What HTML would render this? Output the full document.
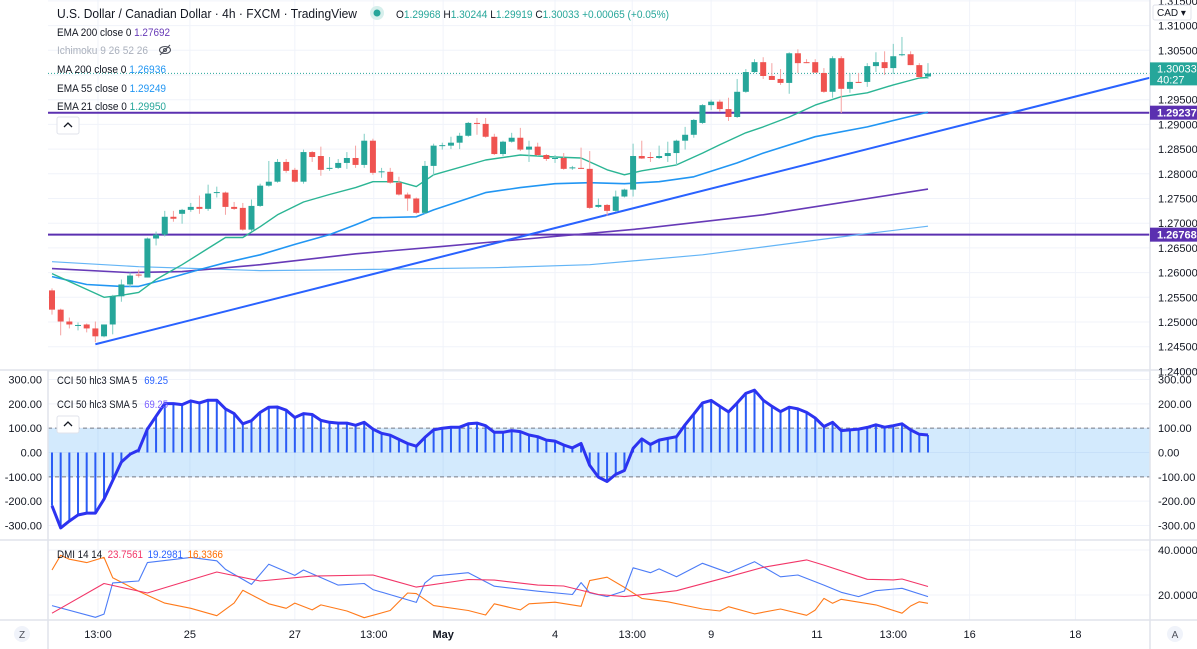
<!DOCTYPE html>
<html><head><meta charset="utf-8">
<style>
html,body{margin:0;padding:0;background:#fff;}
svg{display:block;font-family:"Liberation Sans",sans-serif;}
</style></head>
<body>
<svg id="chart" width="1197" height="649" viewBox="0 0 1197 649" xmlns="http://www.w3.org/2000/svg">
<g id="grid"></g>
<g id="main"></g>
<g id="cci"></g>
<g id="dmi"></g>
<g id="axes"></g>
<g id="legend">
<text x="57" y="18" font-size="13" fill="#131722" textLength="300" lengthAdjust="spacingAndGlyphs">U.S. Dollar / Canadian Dollar · 4h · FXCM · TradingView</text>
<circle cx="377" cy="13" r="7" fill="#d6efec"/>
<circle cx="377" cy="13" r="3.5" fill="#26a69a"/>
<text x="396" y="18" font-size="11" fill="#26a69a" textLength="273" lengthAdjust="spacingAndGlyphs"><tspan fill="#131722">O</tspan>1.29968 <tspan fill="#131722">H</tspan>1.30244 <tspan fill="#131722">L</tspan>1.29919 <tspan fill="#131722">C</tspan>1.30033 +0.00065 (+0.05%)</text>
<text x="57" y="36" font-size="11" fill="#131722" textLength="113" lengthAdjust="spacingAndGlyphs">EMA 200 close 0 <tspan fill="#673ab7">1.27692</tspan></text>
<text x="57" y="54" font-size="11" fill="#aab0bc" textLength="91" lengthAdjust="spacingAndGlyphs">Ichimoku 9 26 52 26</text>
<g stroke="#50535e" fill="none" stroke-width="1.1"><ellipse cx="165" cy="50" rx="5.5" ry="3.5"/><circle cx="165" cy="50" r="1.5"/><line x1="160" y1="55" x2="170" y2="45"/></g>
<text x="57" y="73" font-size="11" fill="#131722" textLength="109" lengthAdjust="spacingAndGlyphs">MA 200 close 0 <tspan fill="#2196f3">1.26936</tspan></text>
<text x="57" y="92" font-size="11" fill="#131722" textLength="109" lengthAdjust="spacingAndGlyphs">EMA 55 close 0 <tspan fill="#2196f3">1.29249</tspan></text>
<text x="57" y="110" font-size="11" fill="#131722" textLength="109" lengthAdjust="spacingAndGlyphs">EMA 21 close 0 <tspan fill="#26a69a">1.29950</tspan></text>
<g><rect x="57" y="117" width="22" height="17" rx="2" fill="#fff" stroke="#e0e3eb"/><path d="M64 127 L68 123 L72 127" stroke="#131722" fill="none" stroke-width="1.3"/></g>
<text x="57" y="384" font-size="11" fill="#131722" textLength="111" lengthAdjust="spacingAndGlyphs">CCI 50 hlc3 SMA 5 <tspan dx="5" fill="#2962ff">69.25</tspan></text>
<text x="57" y="408" font-size="11" fill="#131722" textLength="111" lengthAdjust="spacingAndGlyphs">CCI 50 hlc3 SMA 5 <tspan dx="5" fill="#7b61ff">69.25</tspan></text>
<g><rect x="57" y="416" width="22" height="17" rx="2" fill="#fff" stroke="#e0e3eb"/><path d="M64 426 L68 422 L72 426" stroke="#131722" fill="none" stroke-width="1.3"/></g>
<text x="57" y="558" font-size="11" fill="#131722" textLength="166" lengthAdjust="spacingAndGlyphs">DMI 14 14 <tspan dx="3" fill="#f23668">23.7561</tspan><tspan dx="6" fill="#2962ff">19.2981</tspan><tspan dx="6" fill="#ff6d00">16.3366</tspan></text>
</g>
</svg>
<script>
const opens=[1.2564,1.2525,1.2501,1.2493,1.2495,1.2487,1.2471,1.2495,1.2552,1.2576,1.2596,1.2590,1.2669,1.2677,1.2713,1.2719,1.2727,1.2733,1.2729,1.2762,1.2762,1.2733,1.2731,1.2687,1.2735,1.2776,1.2784,1.2824,1.2808,1.2784,1.2844,1.2836,1.2810,1.2812,1.2822,1.2832,1.2818,1.2867,1.2804,1.2804,1.2782,1.2758,1.2750,1.2721,1.2816,1.2857,1.2857,1.2863,1.2877,1.2903,1.2901,1.2875,1.2840,1.2865,1.2873,1.2849,1.2855,1.2838,1.2830,1.2832,1.2812,1.2812,1.2810,1.2733,1.2737,1.2725,1.2754,1.2768,1.2836,1.2834,1.2832,1.2836,1.2842,1.2867,1.2879,1.2903,1.2939,1.2946,1.2931,1.2915,1.2966,1.3006,1.3026,1.2998,1.2992,1.2984,1.3044,1.3026,1.3026,1.3004,1.2966,1.3034,1.2972,1.2986,1.2986,1.3018,1.3026,1.3014,1.3040,1.3042,1.3020,1.2997];
const highs=[1.2568,1.2527,1.2509,1.2499,1.2497,1.2501,1.2493,1.2555,1.2586,1.2600,1.2606,1.2671,1.2683,1.2725,1.2725,1.2729,1.2741,1.2756,1.2778,1.2774,1.2764,1.2743,1.2741,1.2748,1.2780,1.2826,1.2830,1.2830,1.2812,1.2849,1.2846,1.2855,1.2834,1.2830,1.2844,1.2857,1.2881,1.2871,1.2812,1.2812,1.2794,1.2762,1.2752,1.2826,1.2861,1.2863,1.2875,1.2883,1.2905,1.2913,1.2913,1.2881,1.2867,1.2883,1.2893,1.2867,1.2863,1.2840,1.2838,1.2842,1.2816,1.2853,1.2846,1.2750,1.2739,1.2766,1.2770,1.2861,1.2867,1.2844,1.2857,1.2865,1.2869,1.2895,1.2911,1.2941,1.2950,1.2950,1.2954,1.2992,1.3012,1.3032,1.3036,1.3024,1.3012,1.3046,1.3052,1.3032,1.3032,1.3014,1.3038,1.3038,1.3004,1.3004,1.3024,1.3046,1.3048,1.3063,1.3077,1.3048,1.3024,1.3024];
const lows=[1.2515,1.2473,1.2487,1.2483,1.2479,1.2459,1.2469,1.2475,1.2541,1.2570,1.2590,1.2590,1.2655,1.2673,1.2703,1.2699,1.2723,1.2719,1.2725,1.2752,1.2717,1.2727,1.2685,1.2683,1.2733,1.2774,1.2782,1.2802,1.2782,1.2780,1.2824,1.2796,1.2806,1.2810,1.2810,1.2812,1.2812,1.2798,1.2792,1.2780,1.2756,1.2725,1.2719,1.2719,1.2796,1.2849,1.2850,1.2850,1.2875,1.2879,1.2873,1.2838,1.2836,1.2863,1.2846,1.2824,1.2836,1.2826,1.2822,1.2808,1.2808,1.2810,1.2729,1.2731,1.2715,1.2723,1.2752,1.2754,1.2830,1.2824,1.2830,1.2824,1.2816,1.2849,1.2873,1.2901,1.2929,1.2925,1.2907,1.2913,1.2964,1.3004,1.2992,1.2992,1.2980,1.2962,1.3004,1.3024,1.3004,1.2964,1.2954,1.2923,1.2964,1.2984,1.2976,1.3006,1.3000,1.3002,1.3038,1.3020,1.2994,1.2992];
const closes=[1.2525,1.2501,1.2495,1.2494,1.2487,1.2471,1.2495,1.2552,1.2576,1.2594,1.2594,1.2669,1.2677,1.2713,1.2709,1.2727,1.2733,1.2729,1.2760,1.2763,1.2733,1.2729,1.2687,1.2735,1.2776,1.2784,1.2824,1.2806,1.2784,1.2844,1.2834,1.2808,1.2812,1.2822,1.2832,1.2818,1.2867,1.2802,1.2805,1.2782,1.2758,1.2750,1.2721,1.2816,1.2857,1.2858,1.2863,1.2877,1.2903,1.2901,1.2875,1.2840,1.2865,1.2873,1.2849,1.2855,1.2838,1.2830,1.2832,1.2810,1.2813,1.2811,1.2731,1.2737,1.2725,1.2754,1.2768,1.2836,1.2831,1.2833,1.2836,1.2842,1.2867,1.2879,1.2909,1.2939,1.2946,1.2931,1.2915,1.2966,1.3006,1.3026,1.2998,1.2990,1.2984,1.3044,1.3024,1.3025,1.3005,1.2966,1.3034,1.2972,1.2986,1.2985,1.3018,1.3026,1.3014,1.3038,1.3042,1.3020,1.2996,1.3003];
const ema21Bars=[0,6,8,10,12,15,18,20,22,24,26,29,32,35,37,40,42,44,50,54,58,61,64,66,68,70,72,75,77,80,82,85,88,91,94,97,100,101];
const ema21Vals=[1.2598,1.2550,1.2554,1.2560,1.2586,1.2616,1.2649,1.2671,1.2671,1.2693,1.2717,1.2743,1.2758,1.2772,1.2784,1.2784,1.2774,1.2798,1.2828,1.2838,1.2834,1.2832,1.2808,1.2798,1.2806,1.2812,1.2818,1.2842,1.2859,1.2883,1.2895,1.2915,1.2939,1.2956,1.2964,1.2980,1.2994,1.2995];
const ema55Bars=[0,4,8,10,13,17,20,24,28,32,35,37,42,44,50,54,58,62,66,70,74,79,82,88,94,101];
const ema55Vals=[1.2592,1.2576,1.2572,1.2572,1.2586,1.2606,1.2620,1.2636,1.2657,1.2677,1.2697,1.2711,1.2713,1.2727,1.2762,1.2772,1.2780,1.2782,1.2780,1.2784,1.2794,1.2822,1.2842,1.2875,1.2895,1.2925];
const ema200Bars=[0,9,15,24,35,45,54,63,68,82,101];
const ema200Vals=[1.2608,1.2600,1.2602,1.2616,1.2638,1.2653,1.2667,1.2681,1.2689,1.2717,1.2769];
const ma200Bars=[0,10,17,24,35,51,62,75,93,101];
const ma200Vals=[1.2622,1.2612,1.2608,1.2604,1.2606,1.2610,1.2616,1.2636,1.2677,1.2694];
const trendBars=[5,101];
const trendVals=[1.2455,1.2881];
const hLevels=[1.29237,1.26768];
const lastPrice=1.30033;
const priceTicks=[1.315,1.31,1.305,1.30,1.295,1.29,1.285,1.28,1.275,1.27,1.265,1.26,1.255,1.25,1.245,1.24];
const cciVals=[-219,-310,-282,-257,-249,-249,-192,-115,-39,-7,10,96,149,201,201,197,212,204,215,215,179,160,118,131,165,186,187,174,144,160,156,132,124,121,121,112,124,96,79,71,54,37,26,62,93,100,104,104,118,121,110,83,83,90,86,72,65,51,47,31,19,37,-53,-101,-119,-90,-74,17,56,33,51,58,65,114,158,204,214,190,167,204,243,256,215,190,168,186,179,165,142,107,124,90,93,96,103,114,104,110,118,93,75,72];
const cciTicks=[300,200,100,0,-100,-200,-300];
const diPlusBars=[0,6,11,19,24,30,37,42,48,51,56,59,63,66,72,78,82,87,89,94,97,98,101];
const diPlusVals=[11.9,25.1,20.9,30.2,26.2,28.4,28.9,23.5,26.9,26.6,24.4,24,20.2,19.3,21.9,28.1,32.3,35.6,33.3,27,26.7,27.1,23.8];
const diMinusBars=[0,5,6,7,10,11,16,19,20,23,25,28,29,33,36,37,42,43,44,48,51,56,60,61,62,64,66,67,69,70,72,75,78,81,84,86,89,91,93,95,98,101];
const diMinusVals=[15.3,10.1,11.5,25.4,26.2,34.4,36.7,35.2,31.4,24.7,33.7,28.7,31.1,24.4,25.1,22.4,16.7,25.4,28.4,29.9,23.9,21.7,20.2,25.5,21,19.3,21.8,32.1,29.9,31.6,28.1,34.1,29.9,34.8,28.1,28.9,24.4,21.2,19.3,21.9,23,19.3];
const adxBars=[0,1,2,4,6,7,10,13,16,19,21,22,25,27,28,30,31,34,36,39,41,42,44,48,50,51,54,55,58,61,62,64,66,68,71,75,77,78,81,84,87,88,89,90,91,95,98,99,100,101];
const adxVals=[31.1,37.7,35.9,34.4,36.7,27.7,21.7,16.4,14.1,10.8,16.4,22.1,16.1,14.1,16.4,13.4,15.6,12.9,9.9,13.1,20.9,20.6,15.3,13.1,11.1,16.1,13.4,16.1,16.8,15,26.4,27.9,23.4,18.5,17,13.8,12.9,14.8,11.6,13.8,11,13.3,18.5,16.3,18.1,15.6,11.9,15.1,17,16.3];
const dmiTicks=[40,20];
const timeTickBars=[5.3,15.9,28,37.1,45.1,58,66.9,76,88.2,97,105.8,118];
const timeTickLabels=["13:00","25","27","13:00","May","4","13:00","9","11","13:00","16","18"];

const NS="http://www.w3.org/2000/svg";
const L=48,R=1150;
function xOf(i){return 52+8.673*i;}
function yP(p){return 75+(1.30-p)/0.005*24.7;}
function yC(v){return 452.5-v*0.2433;}
function yD(v){return 595-(v-20)*2.25;}
function mk(tag,attrs,parent){const e=document.createElementNS(NS,tag);for(const k in attrs)e.setAttribute(k,attrs[k]);parent.appendChild(e);return e;}
const grid=document.getElementById('grid'),main=document.getElementById('main'),cci=document.getElementById('cci'),dmi=document.getElementById('dmi'),axes=document.getElementById('axes');

timeTickBars.forEach(b=>{const l=mk('line',{x1:xOf(b),x2:xOf(b),y1:0,y2:620,stroke:'#f0f3fa'},grid);

});
priceTicks.forEach(p=>{const l=mk('line',{x1:L,x2:R,y1:yP(p),y2:yP(p),stroke:'#f0f3fa'},grid);

});
cciTicks.forEach(v=>{const l=mk('line',{x1:L,x2:R,y1:yC(v),y2:yC(v),stroke:'#f0f3fa'},grid);

});
dmiTicks.forEach(v=>{const l=mk('line',{x1:L,x2:R,y1:yD(v),y2:yD(v),stroke:'#f0f3fa'},grid);

});

function poly(bars,vals,yf,attrs,parent,name){
  const pts=bars.map((b,k)=>xOf(b).toFixed(1)+','+yf(vals[k]).toFixed(1)).join(' ');
  const e=mk('polyline',Object.assign({points:pts,fill:'none','stroke-linejoin':'round'},attrs),parent);
  
  
  return e;
}
const clip=mk('clipPath',{id:'mclip'},main);mk('rect',{x:L,y:0,width:R-L,height:370},clip);
const mg=mk('g',{'clip-path':'url(#mclip)'},main);
const lp=mk('line',{x1:L,x2:R,y1:yP(lastPrice),y2:yP(lastPrice),stroke:'#26a69a','stroke-dasharray':'1 2','stroke-width':1},mg);


hLevels.forEach(p=>{const l=mk('line',{x1:L,x2:R,y1:yP(p),y2:yP(p),stroke:'#5b30b0','stroke-width':2},mg);

});
poly(ma200Bars,ma200Vals,yP,{stroke:'#64b5f6','stroke-width':1.2},mg,'ma200-line');
poly(ema200Bars,ema200Vals,yP,{stroke:'#673ab7','stroke-width':1.6},mg,'ema200-line');
poly(ema55Bars,ema55Vals,yP,{stroke:'#2196f3','stroke-width':1.6},mg,'ema55-line');
poly(ema21Bars,ema21Vals,yP,{stroke:'#2bb594','stroke-width':1.4},mg,'ema21-line');
{const slope=(trendVals[1]-trendVals[0])/(trendBars[1]-trendBars[0]);const endBar=(R-52)/8.673;
const tl=mk('line',{x1:xOf(trendBars[0]),y1:yP(trendVals[0]),x2:R,y2:yP(trendVals[0]+slope*(endBar-trendBars[0])),stroke:'#2962ff','stroke-width':2},mg);

}
closes.forEach((c,i)=>{const o=opens[i],up=c>=o,col=up?'#26a69a':'#ef5350';const x=xOf(i);
const g=mk('g',{},mg);


mk('line',{x1:x,x2:x,y1:yP(highs[i]),y2:yP(lows[i]),stroke:up?'#7fcdc4':'#f5a3a2','stroke-width':1},g);
const t=Math.min(yP(o),yP(c)),h=Math.max(1,Math.abs(yP(o)-yP(c)));
mk('rect',{x:x-3,y:t,width:6,height:h,fill:col},g);});

const band=mk('rect',{x:L,y:yC(100),width:R-L,height:yC(-100)-yC(100),fill:'rgba(33,150,243,0.2)'},cci);


[100,-100].forEach(v=>{const l=mk('line',{x1:L,x2:R,y1:yC(v),y2:yC(v),stroke:'#787b86','stroke-dasharray':'4 3'},cci);

});
cciVals.forEach((v,i)=>{const l=mk('line',{x1:xOf(i),x2:xOf(i),y1:yC(0),y2:yC(v),stroke:'#2a5cf5','stroke-width':2},cci);

});
poly(cciVals.map((v,i)=>i),cciVals,yC,{stroke:'#2d33f0','stroke-width':3},cci,'cci-line');

poly(adxBars,adxVals,yD,{stroke:'#ff7a1a','stroke-width':1.1},dmi,'adx-line');
poly(diMinusBars,diMinusVals,yD,{stroke:'#4c7cf7','stroke-width':1.1},dmi,'di-minus-line');
poly(diPlusBars,diPlusVals,yD,{stroke:'#f23668','stroke-width':1.1},dmi,'di-plus-line');

[[0,370,1197,370],[0,540,1197,540],[0,620,1197,620],[R,0,R,649],[L,370,L,649]].forEach(a=>{const l=mk('line',{x1:a[0],y1:a[1],x2:a[2],y2:a[3],stroke:'#e0e3eb','stroke-width':1.5},axes);

});
function txt(s,x,y,attrs,parent,name,inter){const t=mk('text',Object.assign({x:x,y:y,'font-size':11,fill:'#131722'},attrs),parent);t.textContent=s;

return t;}
priceTicks.forEach(p=>{txt(p.toFixed(5),1158,yP(p)+4,{},axes,'price-tick-label',false);});
cciTicks.forEach(v=>{txt(v.toFixed(2),1158,yC(v)+4,{},axes,'cci-right-tick-label',false);
txt(v.toFixed(2),42,yC(v)+4,{'text-anchor':'end'},axes,'cci-left-tick-label',false);});
dmiTicks.forEach(v=>{txt(v.toFixed(4),1158,yD(v)+4,{},axes,'dmi-tick-label',false);});
timeTickBars.forEach((b,k)=>{txt(timeTickLabels[k],xOf(b),638,{'text-anchor':'middle','font-weight':timeTickLabels[k]==='May'?'bold':'normal'},axes,'time-tick-label',false);});
{const y=yP(lastPrice);const r=mk('rect',{x:R,y:y-11,width:47,height:23,fill:'#26a69a'},axes);


txt(lastPrice.toFixed(5),1157,y-1,{fill:'#fff'},axes,'last-price-value',false);
txt('40:27',1157,y+10,{fill:'#fff'},axes,'bar-countdown',false);}
hLevels.forEach(p=>{const y=yP(p);const r=mk('rect',{x:R,y:y-7,width:47,height:14,fill:'#5b30b0'},axes);


txt(p.toFixed(5),1157,y+4,{fill:'#fff','font-weight':'bold'},axes,'level-price-value',false);});
{const b=mk('rect',{x:1153,y:5,width:38,height:15,rx:2,fill:'#fff',stroke:'#e0e3eb'},axes);


txt('CAD ▾',1157,16,{'font-size':10},axes,'currency-label',true);}
{const z=mk('circle',{cx:22,cy:634,r:8,fill:'#f0f3fa'},axes);


txt('Z',22,638,{'text-anchor':'middle','font-size':10,fill:'#50535e'},axes,'zoom-reset-label',true);
const a=mk('circle',{cx:1175,cy:634,r:8,fill:'#f0f3fa'},axes);


txt('A',1175,638,{'text-anchor':'middle','font-size':10,fill:'#50535e'},axes,'auto-scale-label',true);}
</script>
</body></html>
